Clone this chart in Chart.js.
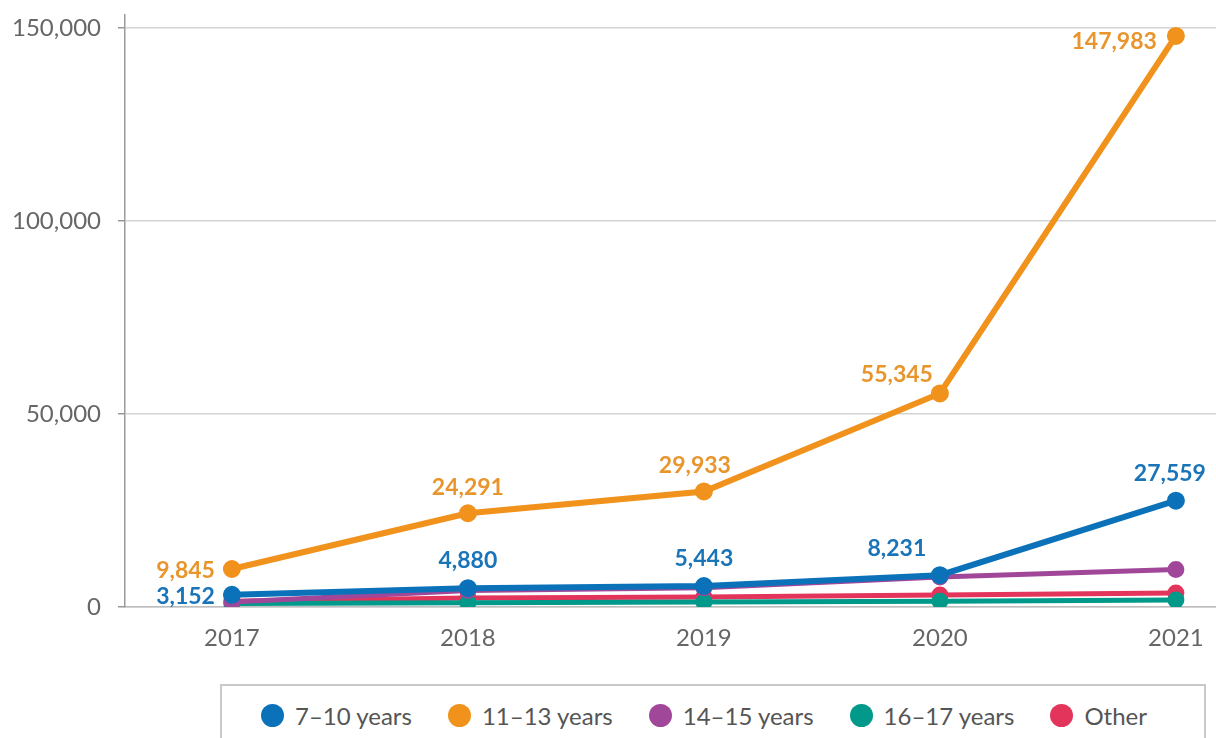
<!DOCTYPE html>
<html>
<head>
<meta charset="utf-8">
<script src="https://cdn.jsdelivr.net/npm/chart.js@4/dist/chart.umd.min.js"></script>
<style>
  html, body { margin: 0; padding: 0; background: #fff; }
  body { width: 1216px; height: 738px; position: relative; overflow: hidden; font-family: Lato, sans-serif; }
  #wrap { position: absolute; left: 0; top: 0; width: 1216px; height: 670px; }
  #legend {
    position: absolute; left: 220px; top: 684px; width: 986px; height: 70px;
    border: 2px solid #c9c9c9; box-sizing: border-box;
    display: flex; justify-content: center; align-items: flex-start; padding-top: 15px; padding-right: 18px;
  }
  .item { display: flex; align-items: center; margin: 0 18px; font-size: 24px; color: #555; white-space: nowrap; }
  .dot { width: 23px; height: 23px; border-radius: 50%; margin-right: 11px; }
</style>
</head>
<body>
<div id="wrap"><canvas id="chart"></canvas></div>
<div id="legend"></div>
<script>
// data
const years = [2017, 2018, 2019, 2020, 2021];
const seriesNames = ['7–10 years', '11–13 years', '14–15 years', '16–17 years', 'Other'];
const age7to10 = [3152, 4880, 5443, 8231, 27559];
const age11to13 = [9845, 24291, 29933, 55345, 147983];
const age14to15 = [1300, 4300, 5000, 7800, 9700];
const age16to17 = [900, 1100, 1300, 1500, 1800];
const other = [1500, 2300, 2600, 3100, 3600];
const yTicks = [0, 50000, 100000, 150000];

const colors = ['#0B72B9', '#F0921C', '#A1479A', '#00998A', '#E3345B'];
const labelColors = ['#1A74B8', '#E8952C'];

// label placement per point: [dx, dy, align]
const labelPos = {
  0: [[-17, 2, 'right'], [0, -28, 'center'], [0, -27, 'center'], [-43, -27, 'center'], [-6, -27, 'center']],
  1: [[-17, 2, 'right'], [0, -26, 'center'], [-9, -26, 'center'], [-43, -19, 'center'], [-19, 6, 'right']]
};

const pointLabels = {
  id: 'pointLabels',
  afterDatasetsDraw(chart) {
    const ctx = chart.ctx;
    ctx.save();
    ctx.font = 'bold 23px Lato';
    ctx.textBaseline = 'middle';
    Object.keys(labelPos).forEach(di => {
      const meta = chart.getDatasetMeta(+di);
      const vals = chart.data.datasets[di].data;
      ctx.fillStyle = labelColors[di];
      meta.data.forEach((pt, i) => {
        const [dx, dy, align] = labelPos[di][i];
        ctx.textAlign = align;
        ctx.fillText(vals[i].y.toLocaleString('en-US'), pt.x + dx, pt.y + dy);
      });
    });
    ctx.restore();
  }
};

const allSeries = [age7to10, age11to13, age14to15, age16to17, other];
const widths = [6, 6, 5, 5, 5];

Chart.defaults.font.family = 'Lato';

const chart = new Chart(document.getElementById('chart').getContext('2d'), {
  type: 'line',
  data: {
    datasets: allSeries.map((vals, k) => ({
      label: seriesNames[k],
      data: vals.map((v, i) => ({ x: years[i], y: v })),
      borderColor: colors[k],
      backgroundColor: colors[k],
      borderWidth: widths[k],
      pointRadius: 6,
      pointHoverRadius: 6,
      tension: 0,
      fill: false
    }))
  },
  options: {
    responsive: true,
    maintainAspectRatio: false,
    animation: false,
    layout: { padding: { top: 15, left: 0, right: 0, bottom: 0 }, autoPadding: false },
    plugins: {
      legend: { display: false },
      tooltip: { enabled: false }
    },
    scales: {
      x: {
        type: 'linear',
        min: 2016.547,
        max: 2021.17,
        afterBuildTicks: s => { s.ticks = years.map(v => ({ value: v })); },
        afterFit: s => { s.height = 63; s.paddingLeft = 0; s.paddingRight = 0; },
        grid: { display: false, drawTicks: false },
        border: { display: true, color: '#bdbdbd', width: 1.5 },
        ticks: {
          padding: 17,
          color: '#666',
          font: { size: 24 },
          maxRotation: 0,
          callback: v => String(v)
        }
      },
      y: {
        min: 0,
        max: 153400,
        afterBuildTicks: s => { s.ticks = yTicks.map(v => ({ value: v })); },
        afterFit: s => { s.width = 125; s.paddingTop = 0; s.paddingBottom = 0; },
        grid: { color: '#d3d3d3', lineWidth: 1.5, tickLength: 7, tickColor: '#999' },
        border: { display: true, color: '#999', width: 1.5 },
        ticks: {
          padding: 17,
          color: '#666',
          font: { size: 24 },
          callback: v => v.toLocaleString('en-US')
        }
      }
    }
  },
  plugins: [pointLabels]
});

// legend built from the chart's datasets
const legendEl = document.getElementById('legend');
chart.data.datasets.forEach(ds => {
  const item = document.createElement('div');
  item.className = 'item';
  const dot = document.createElement('span');
  dot.className = 'dot';
  dot.style.background = ds.borderColor;
  item.appendChild(dot);
  item.appendChild(document.createTextNode(ds.label));
  legendEl.appendChild(item);
});
</script>
</body>
</html>
